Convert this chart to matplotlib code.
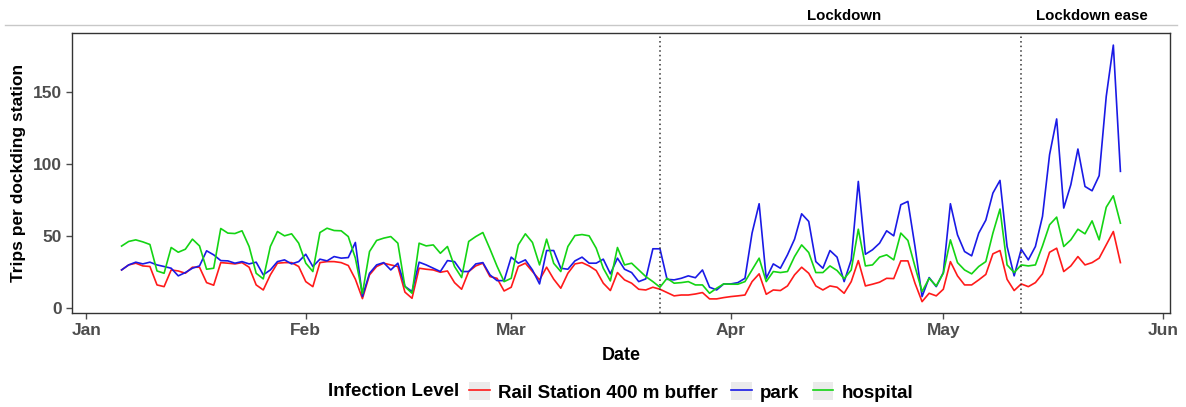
import matplotlib
matplotlib.use("Agg")
import matplotlib.pyplot as plt
import matplotlib.dates as mdates
from matplotlib.lines import Line2D
from matplotlib.patches import Rectangle
from matplotlib.legend_handler import HandlerTuple
import matplotlib.transforms as mtransforms
import numpy as np
import pandas as pd

plt.rcParams["font.family"] = ["Liberation Sans", "DejaVu Sans"]

# daily trips per docking station, 6 Jan - 26 May 2020
dates = pd.date_range("2020-01-06", "2020-05-26", freq="D")

rail = [26.4, 29.9, 31.1, 29.2, 28.8, 16, 14.8, 26.4, 25.7, 24.1, 28.3, 28.3, 17.6, 15.8,
        31.5, 31.1, 30.6, 31.5, 28.3, 16, 12.5, 23, 31.1, 31.5, 31.5, 28.8, 18.3, 14.8,
        31.5, 32.2, 32.2, 31.5, 29.5, 20, 6.5, 23, 28.8, 31.1, 29.9, 28.8, 11, 6.7,
        27.6, 26.9, 26.4, 24.8, 25.7, 17.6, 13, 25.3, 29.2, 31.1, 21.8, 20.6, 11.8, 14.4,
        28.8, 31.1, 25.3, 19.5, 28.3, 20, 13.7, 24.1, 30.6, 31.5, 29.2, 26, 17.2, 12.1,
        24.6, 19.5, 17.2, 13, 12.5, 14.4, 13, 10.7, 8.4, 9, 9, 9.7, 10.7, 6.3,
        6.3, 7.2, 7.9, 8.4, 9, 18.3, 23.7, 9.5, 12.5, 12.1, 15.3, 23, 28.3, 24.1,
        15.3, 12.5, 15.3, 14.4, 10.2, 18.3, 32.9, 15.3, 16.5, 17.9, 20.6, 20.4, 32.7, 32.7,
        17.2, 4.4, 10.2, 8.4, 13, 32.2, 22.3, 16, 16, 19.5, 23.3, 37.6, 39.9, 19.9,
        12.1, 16.7, 14.8, 17.6, 23.7, 38.7, 41.5, 25.3, 29.2, 35.7, 29.9, 31.5, 34.6, 43.8,
        53.1, 31.5]

park = [26.4, 29.9, 31.8, 30.6, 31.8, 29.9, 28.8, 27.6, 22.3, 24.6, 27.6, 29.2, 39.7, 36.9,
        32.9, 32.7, 31.1, 32.2, 30.6, 31.8, 23, 26.4, 32.2, 33.4, 30.6, 32.2, 37.3, 28.8,
        33.9, 32.7, 35.7, 34.6, 35, 45.5, 8, 24.1, 29.9, 31.5, 26.4, 31.1, 15, 11.4,
        31.8, 29.9, 27.6, 25.3, 32.9, 32.2, 25.3, 25.3, 30.6, 31.5, 23, 19, 19, 35.3,
        31.1, 33.4, 26.4, 16.7, 39.9, 39.9, 27.6, 26.9, 32.7, 35.3, 31.1, 31.1, 33.9, 23.7,
        34.6, 26.9, 24.6, 18.3, 20.2, 41.1, 41.1, 19.9, 19.5, 20.6, 22.3, 21, 26.4, 14.4,
        12.5, 16.7, 16.7, 17.6, 20.6, 52, 72.4, 20.6, 30.6, 27.6, 36.9, 47.8, 65.4, 60.1,
        32.2, 27.6, 39.9, 35.3, 18.3, 33.4, 87.9, 37.3, 40.4, 45, 53.6, 50.1, 71.7, 74,
        42.7, 7.9, 21.1, 14.8, 24.6, 72.4, 50.8, 39.2, 36.2, 52, 61, 79.8, 88.6, 42.7,
        22.3, 40.8, 33.4, 42.7, 63.6, 106.5, 131.3, 69.4, 85.6, 110.4, 84.4, 81.4, 91.9, 147,
        182.6, 94.9]

hospital = [43, 46.2, 47.3, 45.9, 44.1, 25.7, 24.1, 42, 38.7, 40.8, 47.8, 43.1, 26.9, 27.6,
            55.2, 52, 51.7, 53.6, 42.7, 24.1, 20.2, 42.7, 53.1, 50.1, 51.5, 45, 31.1, 25.3,
            52.4, 55.4, 53.8, 53.6, 49.6, 34.6, 10, 39.2, 46.9, 48.5, 49.6, 45, 14.8, 10.2,
            45, 43.1, 43.8, 38, 42.7, 28.8, 21.1, 46.2, 49.6, 52.4, 41, 29, 18.3, 20.6,
            43.8, 51.5, 45.5, 29.9, 47.8, 31, 25.3, 42.7, 50.3, 51, 50.1, 41.5, 27.6, 18.8,
            42, 29.9, 31.1, 26.4, 21.8, 18.3, 14.4, 20.6, 17.2, 17.6, 18.3, 16, 16, 10.2,
            13.7, 16.7, 16.5, 16.5, 18.3, 26.4, 34.6, 18.3, 25.3, 24.6, 25.3, 35.7, 43.8, 38.5,
            24.6, 24.6, 29.2, 26, 20.3, 26.4, 54.7, 29.2, 29.9, 35.3, 36.9, 33.4, 52, 46.9,
            28.8, 11.4, 20.6, 15.3, 24.1, 47.3, 31.5, 26.4, 23.7, 28.8, 32.2, 52, 68.7, 29.9,
            24.6, 29.9, 29.2, 29.9, 43.1, 57.8, 63.1, 42.7, 47.3, 54.7, 51.5, 60.5, 47.3, 70,
            77.9, 58.9]

series = ["Rail Station 400 m buffer", "park", "hospital"]
colors = ["#ff1a1a", "#1a1ae6", "#14d414"]

events = [("Lockdown", "2020-03-22", "2020-04-17"),
          ("Lockdown ease", "2020-05-12", "2020-05-22")]

fig = plt.figure(figsize=(11.86, 4.07), dpi=100)
ax = fig.add_axes([72 / 1186, 1 - 313 / 407, (1170 - 72) / 1186, 280 / 407])

for name, vals, c in zip(series, [rail, park, hospital], colors):
    ax.plot(dates, vals, color=c, lw=1.2, label=name)

for label, when, label_at in events:
    ax.axvline(pd.Timestamp(when), color="#333333", lw=1.1, ls=(0, (1, 2)))

ax.set_xlim(pd.Timestamp("2019-12-30"), pd.Timestamp("2020-06-02"))
ax.set_ylim(-3.5, 191)
ax.set_yticks([0, 50, 100, 150])
ax.xaxis.set_major_locator(mdates.MonthLocator())
ax.xaxis.set_major_formatter(mdates.DateFormatter("%b"))

for s in ax.spines.values():
    s.set_color("#333333")
    s.set_linewidth(1.0)
ax.tick_params(axis="both", colors="#4d4d4d", labelsize=12.5, length=4, width=1)
for t in ax.get_xticklabels() + ax.get_yticklabels():
    t.set_fontweight("bold")
    t.set_color("#4d4d4d")

ax.set_xlabel("Date", fontsize=13, fontweight="bold", labelpad=6)
ax.set_ylabel("Trips per dockding station", fontsize=12.5, fontweight="bold", labelpad=5)

# event labels above the panel, with a thin rule underneath
trans = mtransforms.blended_transform_factory(ax.transData, fig.transFigure)
for label, when, label_at in events:
    ax.text(pd.Timestamp(label_at), 1 - 16 / 407, label, transform=trans,
            ha="center", va="center", fontsize=10.8, fontweight="bold")
fig.add_artist(Line2D([5 / 1186, 1177 / 1186], [1 - 25 / 407] * 2,
                      color="#c8c8c8", lw=1.0))

# legend with grey key squares behind each line
handles = []
for c in colors:
    bg = Rectangle((0, 0), 1, 1, facecolor="#ebebeb", edgecolor="none")
    ln = Line2D([], [], color=c, lw=1.2)
    handles.append((bg, ln))
fig.text(328 / 1186, 1 - 392 / 407, "Infection Level", fontsize=13.5, fontweight="bold",
         ha="left", va="center")
leg = fig.legend(handles, series, loc="center left", bbox_to_anchor=(469 / 1186, 1 - 392 / 407),
                 ncol=3, frameon=False, handlelength=1.1, handleheight=1.1, handletextpad=0.45,
                 columnspacing=0.7, borderaxespad=0, borderpad=0,
                 handler_map={tuple: HandlerTuple(ndivide=1, pad=0)},
                 prop={"weight": "bold", "size": 13.5})

fig.savefig("out.png", dpi=100)
